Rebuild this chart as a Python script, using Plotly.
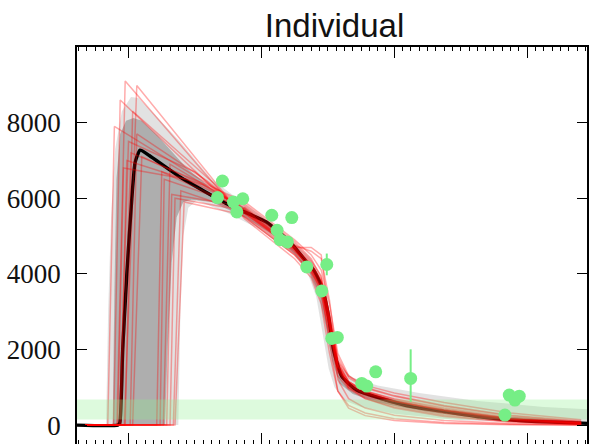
import plotly.graph_objects as go

# ---------------- data ----------------
# observations
OBS_X = [10.71, 11.31, 12.63, 13.76, 13.04, 17.25, 19.66, 17.89, 18.25, 19.13, 21.46,
         23.87, 23.27, 24.47, 25.14, 28.08, 28.68, 29.76, 33.97, 45.32, 45.84, 47.04, 46.52]
OBS_Y = [6018, 6456, 5901, 5986, 5637, 5550, 5489, 5153, 4902, 4844, 4183,
         4247, 3549, 2291, 2318, 1102, 1031, 1409, 1234, 264, 793, 766, 661]
OBS_ERR_PLUS = [120, 120, 120, 120, 120, 120, 120, 120, 120, 120, 120,
                290, 120, 120, 120, 120, 120, 120, 770, 120, 120, 120, 120]
OBS_ERR_MINUS = [120, 120, 120, 120, 120, 120, 120, 120, 120, 120, 120,
                 285, 120, 120, 120, 120, 120, 120, 620, 120, 120, 120, 120]

# mean curve
MEAN_X = [-6.2, -1.3, -1.05, -0.7, -0.2, 0.4, 0.8, 1.4, 2.5, 6.2, 12.2, 16.6, 19.5, 21.4,
          22.3, 23.3, 24.1, 24.7, 25.7, 27.5, 30.3, 34.3, 38.3, 42.3, 46.3, 50.3, 55.2]
MEAN_Y = [0, 0, 60, 2000, 4000, 6000, 6950, 7270, 7130, 6560, 5810, 5370, 4830, 4320,
          4100, 3650, 2860, 1980, 1280, 920, 710, 480, 350, 220, 135, 85, 45]

# outer credible band
OUTER_UP_X = [-6.2, -2.7, -2.45, -2.1, -1.6, -0.8, 0.3, 1.2, 3.0, 6.2, 10, 14, 18, 20.5,
              21.8, 22.8, 23.8, 24.6, 25.5, 27, 30, 35, 42, 50, 55.2]
OUTER_UP_Y = [0, 0, 3000, 5500, 7300, 8300, 8680, 8650, 8250, 7500, 6500, 5850, 5200, 4700,
              4450, 4050, 3200, 2250, 1550, 1250, 1050, 850, 640, 480, 420]
OUTER_LO_X = [-6.2, 6.0, 6.25, 6.6, 7.2, 8.2, 12, 16, 20, 21.6, 22.6, 23.4, 24.1, 24.8,
              26, 28, 32, 40, 55.2]
OUTER_LO_Y = [0, 0, 3000, 5000, 5750, 5950, 5600, 5150, 4500, 4000, 3400, 2400, 1500, 1000,
              650, 480, 300, 130, 20]

# inner credible band
INNER_UP_X = [-6.2, -1.9, -1.7, -1.45, -1.0, -0.3, 0.6, 1.6, 3.5, 7.0, 10, 14, 18, 20.8,
              22, 23, 23.9, 24.6, 25.5, 27, 30, 36, 44, 55.2]
INNER_UP_Y = [0, 0, 3500, 6500, 7700, 8050, 8120, 8050, 7650, 6800, 6250, 5750, 5100, 4550,
              4250, 3850, 3000, 2100, 1400, 1000, 770, 480, 250, 90]
INNER_LO_X = [-6.2, 4.4, 4.7, 5.2, 5.8, 6.6, 7.6, 10, 14, 18, 20.5, 21.8, 22.9, 23.8,
              24.5, 25.4, 27, 30, 36, 44, 55.2]
INNER_LO_Y = [0, 0, 2000, 4300, 5500, 5900, 5960, 5900, 5500, 4950, 4400, 4000, 3450, 2550,
              1700, 1100, 820, 600, 350, 130, 25]

# individual posterior samples
RED_START = -5.2
RED_ONSET = [-2.5, -1.4, -0.5, -1.1, -0.9, -0.4, 0.2, -1.3, 3.4, 3.8, 4.2, 4.6, 5.0, 5.4, 5.6, -1.8, -1.0, 0.5]
RED_PEAK_X = [-1.7, -0.4, 1.0, 0.0, 0.3, 0.5, 1.0, -0.6, 4.0, 4.3, 5.0, 5.2, 5.6, 6.3, 6.7, -1.0, -0.2, 1.6]
RED_PEAK_Y = [7900, 9100, 8980, 7500, 7200, 8300, 7700, 6800, 6700, 6500, 6900, 6100, 6000, 6200, 5900, 8600, 7000, 7100]
RED_MERGE_X = [9, 11, 12, 8, 10, 10.5, 9.5, 7, 12, 11, 11, 12, 12, 13, 13, 10, 9, 11]
RED_MERGE_Y = [6450, 6200, 6000, 6700, 6300, 6350, 6450, 6500, 5900, 6000, 6100, 5850, 5750, 5700, 5600, 6300, 6350, 6150]
TAIL_X = [14, 20, 22, 23.2, 24.2, 25.2, 26.5, 28.5, 32, 38, 46, 54.5]
RED_TAILS = [
    [5800, 4800, 4350, 3950, 2900, 1700, 1150, 880, 640, 380, 150, 50],
    [5500, 4500, 4000, 3400, 2300, 1300, 950, 700, 480, 260, 90, 25],
    [5700, 4700, 4250, 3850, 2950, 1800, 1250, 980, 760, 500, 240, 90],
    [5600, 4650, 4100, 3500, 2400, 1400, 1000, 780, 560, 320, 120, 40],
    [5900, 4900, 4500, 4100, 3200, 1900, 1300, 1000, 780, 520, 260, 110],
    [5450, 4400, 3900, 3200, 1900, 900, 520, 320, 170, 70, 20, 5],
    [5650, 4600, 4150, 3650, 2600, 1500, 1050, 820, 620, 400, 180, 70],
    [5750, 4750, 4600, 4400, 3300, 1600, 1000, 700, 450, 230, 80, 20],
    [5550, 4550, 4050, 3550, 2500, 1450, 1100, 900, 700, 450, 200, 80],
    [5700, 4700, 4200, 3750, 2750, 1600, 1150, 900, 680, 420, 170, 60],
    [5600, 4600, 4150, 3600, 2200, 900, 450, 250, 120, 40, 10, 3],
    [5850, 4850, 4400, 3900, 2800, 1700, 1300, 1050, 850, 600, 320, 140],
    [5500, 4500, 4050, 3600, 2650, 1550, 1050, 800, 580, 340, 130, 45],
    [5650, 4650, 4200, 3700, 2600, 1450, 980, 740, 520, 300, 110, 35],
    [5750, 4750, 4300, 3800, 2850, 1650, 1150, 880, 650, 400, 170, 65],
    [5600, 4700, 4700, 4500, 2800, 1200, 700, 450, 260, 120, 40, 10],
    [5700, 4650, 4100, 3650, 2650, 1550, 1080, 840, 620, 370, 150, 50],
    [5650, 4700, 4250, 3800, 2750, 1600, 1100, 850, 630, 380, 155, 55],
]

# detection band
BAND_Y = [150, 680]

X_RANGE = [-6.2, 55.2]
Y_RANGE = [-500, 10000]
Y_TICKS = [0, 2000, 4000, 6000, 8000]
TITLE = "Individual"

# ---------------- figure ----------------
fig = go.Figure()

def band(ux, uy, lx, ly, color):
    fig.add_trace(go.Scatter(x=ux + lx[::-1], y=uy + ly[::-1], fill="toself",
                             fillcolor=color, line=dict(width=0), mode="lines",
                             hoverinfo="skip", showlegend=False))

band(OUTER_UP_X, OUTER_UP_Y, OUTER_LO_X, OUTER_LO_Y, "rgba(150,150,150,0.28)")
band(INNER_UP_X, INNER_UP_Y, INNER_LO_X, INNER_LO_Y, "rgba(110,110,110,0.45)")

fig.add_trace(go.Scatter(x=MEAN_X, y=MEAN_Y, mode="lines",
                         line=dict(color="black", width=3.4, shape="spline", smoothing=0.5),
                         showlegend=False))

for i in range(len(RED_ONSET)):
    xs = [RED_START, RED_ONSET[i], RED_PEAK_X[i], RED_MERGE_X[i]] + TAIL_X
    ys = [0, 0, RED_PEAK_Y[i], RED_MERGE_Y[i]] + RED_TAILS[i]
    fig.add_trace(go.Scatter(x=xs, y=ys, mode="lines",
                             line=dict(color="rgba(255,0,0,0.33)", width=1.5),
                             showlegend=False, hoverinfo="skip"))

fig.add_trace(go.Scatter(x=[X_RANGE[0], X_RANGE[1], X_RANGE[1], X_RANGE[0]],
                         y=[BAND_Y[0], BAND_Y[0], BAND_Y[1], BAND_Y[1]],
                         fill="toself", fillcolor="rgba(144,238,144,0.30)",
                         line=dict(width=0), mode="lines", showlegend=False, hoverinfo="skip"))

fig.add_trace(go.Scatter(x=OBS_X, y=OBS_Y, mode="markers",
                         marker=dict(size=13, color="#76ee86"),
                         error_y=dict(type="data", symmetric=False, array=OBS_ERR_PLUS,
                                      arrayminus=OBS_ERR_MINUS, color="#76ee86",
                                      thickness=2, width=0),
                         showlegend=False))

fig.update_layout(
    width=589, height=444,
    margin=dict(l=77, r=2, t=47, b=0, autoexpand=False),
    paper_bgcolor="white", plot_bgcolor="white",
    title=dict(text=TITLE, x=0.505, xref="paper", xanchor="center",
               y=0.942, yref="container", yanchor="middle",
               font=dict(family="Liberation Sans", size=33, color="#111")),
)
fig.update_xaxes(range=X_RANGE, showgrid=False, zeroline=False, automargin=False,
                 showline=True, linecolor="black", linewidth=1.6, mirror="allticks",
                 ticks="inside", ticklen=11, tickwidth=1.4, tickcolor="black",
                 tick0=0, dtick=16, showticklabels=False,
                 minor=dict(ticks="inside", ticklen=4, tickwidth=1, tickcolor="black",
                            dtick=1, showgrid=False))
fig.update_yaxes(range=Y_RANGE, showgrid=False, zeroline=False, automargin=False,
                 showline=True, linecolor="black", linewidth=1.6, mirror="allticks",
                 ticks="inside", ticklen=10, tickwidth=1.4, tickcolor="black",
                 tickvals=Y_TICKS, ticktext=[str(v) for v in Y_TICKS],
                 ticklabelstandoff=9,
                 tickfont=dict(family="Liberation Serif", size=27, color="#111"))

fig.write_html("out.html", config={"displayModeBar": False},
               post_script="document.body.style.margin='0px';document.body.style.overflow='hidden';")
